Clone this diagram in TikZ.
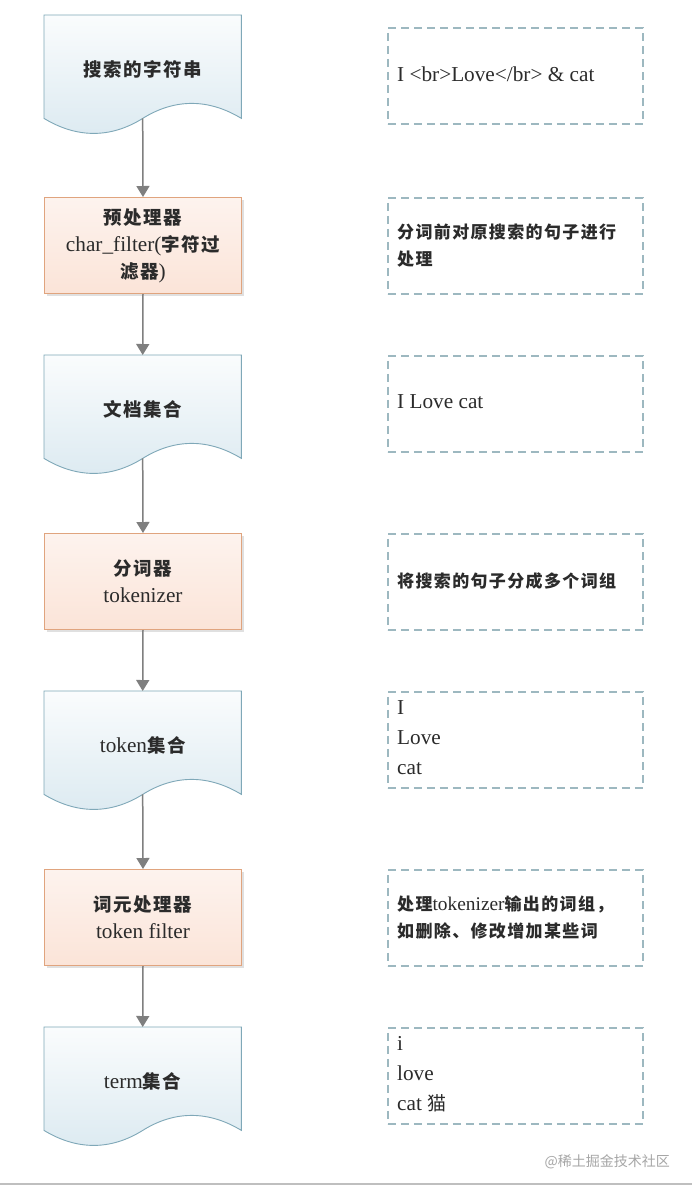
\documentclass[tikz,border=0pt]{standalone}
\usepackage{fontspec}
\setmainfont{Liberation Serif}[Scale=1.25]
\newfontfamily\cjk{Noto Sans CJK SC}[LetterSpace=8]
\newfontfamily\wmfont{Noto Sans CJK SC}
\usetikzlibrary{arrows.meta,calc}
\definecolor{docborder}{HTML}{7FA8B8}
\definecolor{docA}{HTML}{FAFCFD}
\definecolor{docB}{HTML}{DCEAF1}
\definecolor{procborder}{HTML}{E0A47E}
\definecolor{procA}{HTML}{FDF3EE}
\definecolor{procB}{HTML}{FBE4D8}
\definecolor{noteborder}{HTML}{9DB8C0}
\definecolor{arrowgray}{HTML}{7F7F7F}
\definecolor{txt}{HTML}{2B2B2B}
\newcommand\docpath[1]{%
  \fill[black,opacity=0.12,shift={(3,3)}] (#1.north west) -- (#1.north east) -- (#1.south east)
    .. controls ($(#1.south east)+(-33,-20)$) and ($(#1.south)+(32,-20)$) .. (#1.south)
    .. controls ($(#1.south)+(-32,20)$) and ($(#1.south west)+(33,20)$) .. (#1.south west) -- cycle;
  \path[draw=docborder,line width=0.9pt,top color=docA,bottom color=docB] (#1.north west) -- (#1.north east) -- (#1.south east)
    .. controls ($(#1.south east)+(-33,-20)$) and ($(#1.south)+(32,-20)$) .. (#1.south)
    .. controls ($(#1.south)+(-32,20)$) and ($(#1.south west)+(33,20)$) .. (#1.south west) -- cycle;
}
\newcommand\zh[1]{{\cjk\bfseries\fontsize{18.5}{27}\selectfont #1}}
\newcommand\zn[1]{{\cjk\bfseries\fontsize{17}{27}\selectfont #1}}
\newcommand\zr[1]{{\cjk\fontsize{19}{27}\selectfont #1}}
\begin{document}
\begin{tikzpicture}[x=1pt,y=-1pt,
  docnode/.style={minimum width=197pt,minimum height=103pt,inner sep=0,anchor=north west,text=txt,font=\fontsize{17}{27}\selectfont},
  procbox/.style={draw=procborder,line width=1pt,top color=procA,bottom color=procB,minimum width=197pt,minimum height=96pt,anchor=north west,align=center,inner sep=0,text=txt,font=\fontsize{17}{27}\selectfont},
  notebox/.style={draw=noteborder,line width=1.6pt,dash pattern=on 8pt off 5pt,minimum width=255pt,minimum height=96pt,anchor=north west,inner sep=0},
  notetext/.style={anchor=west,align=left,inner sep=0,text=txt,font=\fontsize{17}{30}\selectfont},
  notecjk/.style={anchor=west,align=left,inner sep=0,text=txt,font=\fontsize{15.5}{27}\selectfont},
  flow/.style={draw=arrowgray,line width=1.5pt,-{Triangle[length=11pt,width=13pt]}},
  pshadow/.style={fill=black,opacity=0.12}
]
\useasboundingbox (0,0) rectangle (692,1192);
\fill[white] (0,0) rectangle (692,1192);

% left column documents
\node[docnode] (d1) at (44,15) {};
\node[docnode] (d2) at (44,355) {};
\node[docnode] (d3) at (44,691) {};
\node[docnode] (d4) at (44,1027) {};
\docpath{d1}\docpath{d2}\docpath{d3}\docpath{d4}
\node[docnode] (l1) at (44,18) {\zh{搜索的字符串}};
\node[docnode] (l2) at (44,358) {\zh{文档集合}};
\node[docnode] (l3) at (44,694) {token\zh{集合}};
\node[docnode] (l4) at (44,1030) {term\zh{集合}};

% process boxes
\fill[pshadow] (47,200) rectangle (244,296);
\fill[pshadow] (47,536) rectangle (244,632);
\fill[pshadow] (47,872) rectangle (244,968);
\node[procbox] (p1) at (44,197) {\zh{预处理器}\\char\_filter(\zh{字符过}\\\zh{滤器})};
\node[procbox] (p2) at (44,533) {\zh{分词器}\\tokenizer};
\node[procbox] (p3) at (44,869) {\zh{词元处理器}\\token filter};

% connectors
\draw[flow] (d1.south) -- (p1.north);
\draw[flow] (p1.south) -- (d2.north);
\draw[flow] (d2.south) -- (p2.north);
\draw[flow] (p2.south) -- (d3.north);
\draw[flow] (d3.south) -- (p3.north);
\draw[flow] (p3.south) -- (d4.north);

% notes
\node[notebox] (n1) at (387,27) {};
\node[notebox] (n2) at (387,197) {};
\node[notebox] (n3) at (387,355) {};
\node[notebox] (n4) at (387,533) {};
\node[notebox] (n5) at (387,691) {};
\node[notebox] (n6) at (387,869) {};
\node[notebox] (n7) at (387,1027) {};
\node[notetext] (t1) at ($(n1.west)+(10,-2)$) {I <br>Love</br> \& cat};
\node[notecjk] (t2) at ($(n2.west)+(10,0)$) {\zn{分词前对原搜索的句子进行}\\\zn{处理}};
\node[notetext] (t3) at ($(n3.west)+(10,-2)$) {I Love cat};
\node[notecjk] (t4) at ($(n4.west)+(10,-1)$) {\zn{将搜索的句子分成多个词组}};
\node[notetext] (t5) at ($(n5.west)+(10,-2)$) {I\\Love\\cat};
\node[notecjk] (t6) at ($(n6.west)+(10,0)$) {\zn{处理}tokenizer\zn{输出的词组，}\\\zn{如删除、修改增加某些词}};
\node[notetext] (t7) at ($(n7.west)+(10,-2)$) {i\\love\\cat \zr{猫}};

% watermark and bottom rule
\node[anchor=east,inner sep=0,text=black!35,font=\wmfont\fontsize{14}{14}\selectfont] (wm) at (670,1162) {@稀土掘金技术社区};
\draw[black!25,line width=1.2pt] (0,1184) -- (692,1184);
\end{tikzpicture}
\end{document}
